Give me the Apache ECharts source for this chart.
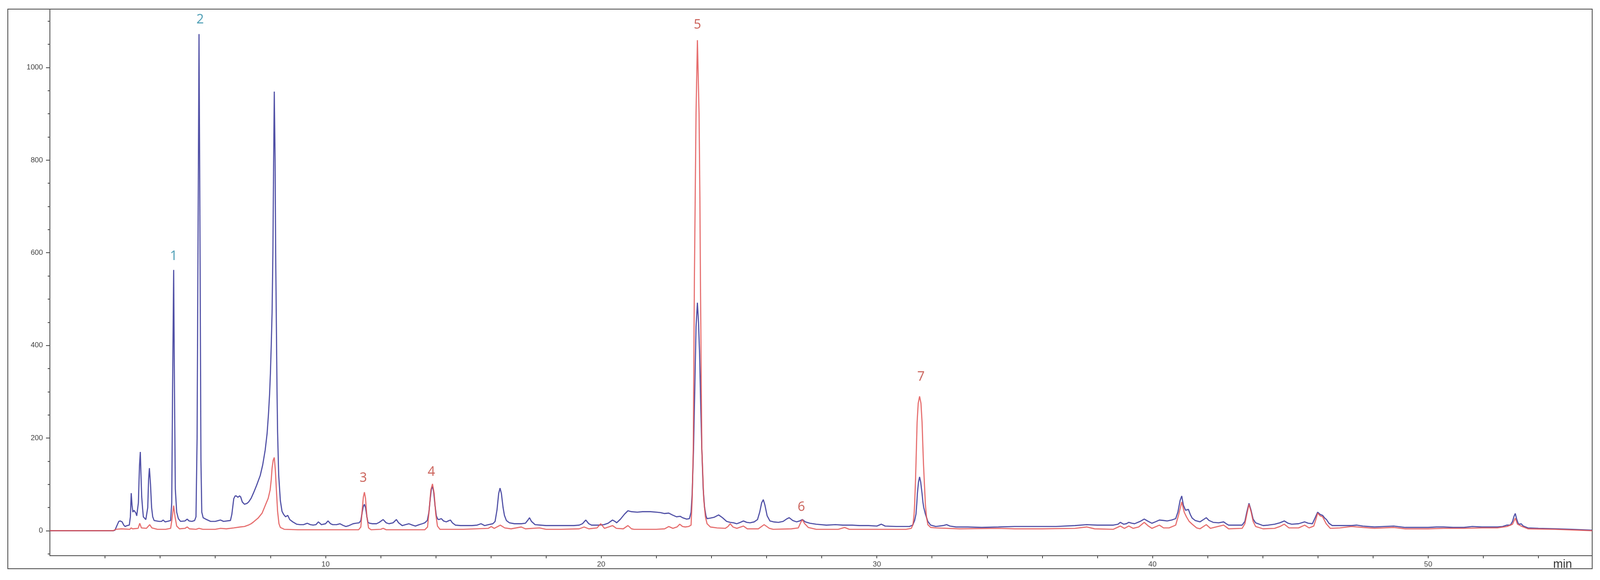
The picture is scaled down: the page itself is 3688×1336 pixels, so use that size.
<!DOCTYPE html>
<html>
<head>
<meta charset="utf-8">
<script src="https://cdn.jsdelivr.net/npm/echarts@6/dist/echarts.min.js"></script>
<style>
html,body{margin:0;padding:0;background:#ffffff;}
#chart{width:3688px;height:1336px;}
</style>
</head>
<body>
<div id="chart"></div>
<script>
// ---- Data (time in min, signal) ----
const blueTrace = [
[0,0],[2.30,0],[2.36,1],[2.44,12],[2.50,20],[2.55,21],[2.62,19],[2.68,12],[2.73,9],[2.80,11],[2.88,12],
[2.92,30],[2.95,81],[2.98,55],[3.01,40],[3.05,44],[3.08,45],[3.12,38],[3.15,32],[3.21,60],[3.25,140],
[3.28,170],[3.31,110],[3.33,74],[3.36,50],[3.39,30],[3.48,24],[3.55,50],[3.58,110],[3.61,135],[3.65,100],
[3.69,50],[3.73,30],[3.78,22],[3.96,20],[4.05,20],[4.11,23],[4.18,19],[4.26,20],[4.38,22],[4.42,60],
[4.45,300],[4.49,563],[4.52,300],[4.55,90],[4.60,40],[4.66,26],[4.74,20],[4.90,21],[4.98,25],[5.05,21],
[5.15,20],[5.25,22],[5.30,30],[5.34,200],[5.38,700],[5.41,1072],[5.44,700],[5.48,150],[5.51,40],[5.56,28],
[5.65,25],[5.83,20],[6.00,20],[6.19,23],[6.30,20],[6.55,22],[6.60,35],[6.67,69],[6.72,75],[6.76,75],
[6.82,72],[6.88,75],[6.92,73],[6.98,62],[7.06,57],[7.15,59],[7.21,62],[7.30,70],[7.39,82],[7.50,98],
[7.63,119],[7.72,142],[7.81,174],[7.88,210],[7.93,252],[7.97,295],[8.00,340],[8.03,400],[8.06,470],[8.09,600],
[8.11,750],[8.14,948],[8.17,800],[8.19,600],[8.22,420],[8.24,300],[8.26,213],[8.30,120],[8.36,65],[8.42,42],
[8.48,35],[8.55,30],[8.63,33],[8.70,24],[8.81,19],[8.95,14],[9.08,13],[9.20,13],[9.34,16],[9.45,13],
[9.55,12],[9.65,13],[9.74,19],[9.85,13],[10.0,15],[10.09,21],[10.18,15],[10.26,13],[10.40,13],[10.52,15],
[10.65,11],[10.74,9],[10.85,11],[11.0,15],[11.1,16],[11.22,17],[11.28,22],[11.33,40],[11.37,52],[11.41,57],
[11.45,50],[11.50,30],[11.54,18],[11.60,16],[11.70,15],[11.85,15],[11.95,18],[12.09,24],[12.20,17],[12.30,15],
[12.45,17],[12.57,24],[12.65,17],[12.78,11],[12.90,13],[13.02,15],[13.15,12],[13.26,10],[13.40,13],[13.51,15],
[13.60,17],[13.69,22],[13.75,40],[13.80,70],[13.84,90],[13.88,95],[13.92,85],[13.97,55],[14.02,32],[14.07,25],
[14.11,24],[14.20,26],[14.28,21],[14.38,19],[14.45,21],[14.53,23],[14.60,17],[14.71,12],[14.9,11],[15.1,11],
[15.31,11],[15.5,12],[15.64,15],[15.77,11],[15.91,13],[16.07,15],[16.15,20],[16.22,45],[16.28,80],[16.33,92],
[16.38,80],[16.44,50],[16.49,33],[16.56,22],[16.67,17],[16.85,15],[17.1,15],[17.25,16],[17.33,22],[17.40,28],
[17.47,20],[17.60,13],[17.8,12],[18.0,11],[18.54,11],[19.0,11],[19.2,12],[19.32,15],[19.44,23],[19.55,15],
[19.65,12],[19.9,12],[20.1,13],[20.25,16],[20.41,23],[20.50,20],[20.56,17],[20.70,25],[20.85,36],[20.97,43],
[21.10,41],[21.31,40],[21.5,41],[21.79,41],[22.0,40],[22.15,39],[22.30,37],[22.45,38],[22.58,34],[22.73,30],
[22.87,31],[22.95,28],[23.10,25],[23.20,26],[23.26,40],[23.30,80],[23.35,177],[23.40,320],[23.44,440],[23.49,492],
[23.53,450],[23.57,380],[23.61,270],[23.65,177],[23.70,90],[23.75,50],[23.80,32],[23.84,26],[23.95,27],[24.10,29],
[24.26,34],[24.40,28],[24.55,20],[24.68,18],[24.80,17],[24.92,15],[25.05,18],[25.16,21],[25.28,18],[25.40,17],
[25.55,19],[25.67,24],[25.75,40],[25.82,60],[25.88,67],[25.94,55],[26.02,32],[26.12,21],[26.25,19],[26.43,18],
[26.60,20],[26.72,25],[26.82,28],[26.95,22],[27.09,19],[27.20,21],[27.30,24],[27.40,19],[27.57,16],[27.8,14],
[28.17,12],[28.5,13],[28.77,12],[29.1,12],[29.37,11],[29.7,11],[30.0,10],[30.16,14],[30.30,10],[30.7,9],
[31.18,9],[31.30,12],[31.37,22],[31.42,36],[31.45,60],[31.47,80],[31.51,105],[31.55,116],[31.59,105],[31.62,90],
[31.64,80],[31.67,62],[31.70,50],[31.76,36],[31.85,20],[31.95,12],[32.14,9],[32.40,11],[32.53,13],[32.65,10],
[32.87,8],[33.3,8],[33.8,7],
[34.41,8],[35.0,9],[35.5,9],[36.0,9],[36.5,9],[37.19,11],[37.61,13],[38.0,12],[38.58,12],[38.75,14],
[38.83,18],[38.95,14],[39.05,15],[39.14,18],[39.25,16],[39.35,15],[39.55,20],[39.70,25],[39.85,20],[39.98,16],
[40.10,19],[40.25,23],[40.40,22],[40.53,21],[40.70,23],[40.84,26],[40.92,40],[41.00,65],[41.06,75],[41.12,55],
[41.20,44],[41.30,46],[41.37,35],[41.44,27],[41.55,22],[41.72,19],[41.85,24],[41.95,28],[42.05,22],[42.20,18],
[42.40,17],[42.58,19],[42.70,14],[42.76,12],[43.25,12],[43.35,20],[43.42,40],[43.50,59],[43.57,45],[43.65,25],
[43.74,17],[44.01,11],[44.20,12],[44.43,14],[44.62,17],[44.78,21],[44.92,16],[45.05,14],[45.30,15],[45.52,19],
[45.65,16],[45.80,15],[45.90,28],[45.99,40],[46.08,35],[46.17,33],[46.25,27],[46.31,24],[46.40,16],[46.52,11],
[46.8,11],[47.22,11],[47.4,12],[47.63,10],[48.05,8],[48.4,9],[48.75,10],[49.17,7],[49.6,7],[50.0,7],
[50.3,8],[50.56,8],[50.9,7],[51.3,7],[51.6,9],[51.95,8],[52.3,8],[52.51,8],[52.70,9],[52.86,12],
[52.98,12],[53.06,20],[53.12,32],[53.16,37],[53.21,25],[53.27,15],[53.33,14],[53.37,15],[53.45,10],[53.62,6],
[54.0,5],[54.6,4],[55.2,3],[55.95,1]
];

const redTrace = [
[0,0],[2.30,0],[2.40,3],[2.60,4],[2.90,3],[2.95,6],[3.00,4],[3.20,5],[3.26,16],[3.32,6],[3.50,5],[3.62,13],
[3.70,6],[3.90,3],[4.20,3],[4.38,5],[4.43,25],[4.49,54],[4.54,30],[4.60,10],[4.70,4],[4.90,5],[4.98,8],
[5.06,4],[5.30,3],[5.41,5],[5.55,3],[6.00,3],[6.19,5],[6.40,4],[6.67,6],[6.90,8],[7.06,9],[7.20,12],
[7.30,15],[7.39,19],[7.55,27],[7.70,38],[7.83,57],[7.92,70],[7.99,88],[8.03,110],[8.06,135],[8.10,152],
[8.14,158],[8.18,130],[8.21,95],[8.26,42],[8.31,15],[8.36,7],[8.50,3],[9.0,2],[10.0,2],[11.2,2],[11.28,8],
[11.33,45],[11.37,72],[11.41,83],[11.45,70],[11.50,30],[11.56,6],[11.65,2],[12.0,3],[12.09,5],[12.2,2],
[13.6,2],[13.70,8],[13.76,45],[13.82,88],[13.88,101],[13.94,80],[14.00,35],[14.06,10],[14.15,3],[15.0,3],
[15.9,5],[16.01,9],[16.12,5],[16.34,12],[16.50,6],[16.73,4],[17.10,8],[17.25,4],[17.76,6],[18.0,3],
[18.54,3],[19.20,4],[19.38,8],[19.55,4],[19.85,6],[19.98,15],[20.12,5],[20.41,11],[20.55,5],[20.80,4],
[20.97,11],[21.10,4],[21.19,3],[22.0,3],[22.30,4],[22.45,9],[22.60,5],[22.75,8],[22.85,14],[22.95,9],
[23.05,8],[23.17,9],[23.26,12],[23.30,68],[23.34,177],[23.38,539],[23.41,720],[23.44,900],[23.49,1059],[23.55,900],
[23.58,720],[23.60,539],[23.65,177],[23.72,68],[23.78,30],[23.84,15],[23.96,8],[24.20,6],[24.50,5],[24.60,9],
[24.68,15],[24.78,8],[24.92,5],[25.16,10],[25.30,4],[25.70,4],[25.91,13],[26.10,5],[26.24,3],[26.90,4],
[27.15,6],[27.24,18],[27.30,24],[27.37,16],[27.51,7],[27.8,3],[28.60,3],[28.83,7],[29.0,3],[30.0,3],
[31.06,3],[31.25,5],[31.31,13],[31.35,35],[31.37,57],[31.40,105],[31.42,146],[31.46,234],[31.50,275],[31.55,290],
[31.60,275],[31.64,234],[31.67,180],[31.69,146],[31.73,95],[31.76,57],[31.80,30],[31.85,13],[31.95,7],
[32.14,6],[33.0,4],[34.41,5],[35.0,4],[36.0,4],[37.19,5],[37.61,8],[37.90,4],[38.58,3],[38.83,10],
[38.98,5],[39.14,10],[39.30,5],[39.50,8],[39.70,18],[39.85,10],[39.98,5],[40.25,12],[40.40,6],[40.60,6],
[40.84,12],[40.95,35],[41.06,62],[41.15,40],[41.23,30],[41.33,20],[41.44,14],[41.60,6],[41.72,4],[41.95,13],
[42.10,5],[42.58,12],[42.76,4],[43.25,5],[43.35,15],[43.42,35],[43.50,57],[43.58,40],[43.65,20],[43.74,9],
[44.01,4],[44.43,5],[44.62,9],[44.78,14],[44.95,6],[45.30,6],[45.52,12],[45.68,6],[45.85,10],[45.93,25],
[45.99,38],[46.08,32],[46.17,30],[46.30,15],[46.45,5],[46.80,6],[47.22,9],[47.63,7],[48.05,5],[48.75,7],
[49.17,4],[50.0,4],[50.56,5],[51.3,5],[51.95,6],[52.51,6],[52.86,9],[53.06,14],[53.16,27],[53.24,14],
[53.37,10],[53.62,4],[54.6,3],[55.95,0]
];

// Peak annotations: name, label anchor time, label anchor signal
const peakNames  = ['1', '2', '3', '4', '5', '6', '7'];
const peakLabelT = [4.49, 5.45, 11.37, 13.84, 23.49, 27.26, 31.60];
const peakLabelV = [592, 1103, 113, 126, 1092, 51, 332];
const peakGroup  = ['blue', 'blue', 'red', 'red', 'red', 'red', 'red'];

const yLabelValues = [0, 200, 400, 600, 800, 1000];
const yMinorTicks  = [-50, 50, 100, 150, 250, 300, 350, 450, 500, 550, 650, 700, 750, 850, 900, 950, 1050, 1100];
const xLabelValues = [10, 20, 30, 40, 50];
const xTickValues  = [2,4,6,8,10,12,14,16,18,20,22,24,26,28,30,32,34,36,38,40,42,44,46,48,50,52,54];

// ---- Chart ----
const chart = echarts.init(document.getElementById('chart'), null, {renderer: 'canvas'});
const axisColor = '#555555';
const labelColors = {blue: '#2a8ba6', red: '#c0433a'};

const option = {
  animation: false,
  backgroundColor: '#ffffff',
  grid: {left: 115, right: 18, top: 21, bottom: 56, containLabel: false},
  xAxis: {
    type: 'value', min: 0, max: 55.95,
    axisLine: {show: true, onZero: false, lineStyle: {color: axisColor, width: 2}},
    axisTick: {show: true, customValues: xTickValues, length: 6, lineStyle: {color: axisColor, width: 2}},
    axisLabel: {customValues: xLabelValues, fontSize: 17, color: '#444', margin: 12, fontFamily: 'Liberation Sans',
                formatter: v => String(v)},
    splitLine: {show: false}
  },
  yAxis: [
    {
      type: 'value', min: -54, max: 1126, position: 'left',
      axisLine: {show: true, onZero: false, lineStyle: {color: axisColor, width: 2}},
      axisTick: {show: true, customValues: yLabelValues, length: 9, lineStyle: {color: axisColor, width: 2}},
      axisLabel: {customValues: yLabelValues, fontSize: 17, color: '#444', margin: 16, fontFamily: 'Liberation Sans',
                  formatter: v => String(v)},
      splitLine: {show: false}
    },
    {
      type: 'value', min: -54, max: 1126, position: 'left',
      axisLine: {show: false},
      axisTick: {show: true, customValues: yMinorTicks, length: 5, lineStyle: {color: axisColor, width: 2}},
      axisLabel: {show: false},
      splitLine: {show: false}
    }
  ],
  graphic: [
    {type: 'rect', shape: {x: 18, y: 21, width: 3652, height: 1289}, style: {fill: 'none', stroke: '#555', lineWidth: 2}, z: -1, silent: true},
    {type: 'text', x: 3580, y: 1287, style: {text: 'min', fontSize: 27, fill: '#333', fontFamily: 'Liberation Sans Narrow, Liberation Sans'}, silent: true}
  ],
  series: [
    {
      name: 'blue', type: 'line', data: blueTrace, showSymbol: false, symbol: 'none',
      lineStyle: {color: '#5050a6', width: 2.6}, itemStyle: {color: '#5050a6'}, z: 2, smooth: false
    },
    {
      name: 'red', type: 'line', data: redTrace, showSymbol: false, symbol: 'none',
      lineStyle: {color: '#e25555', width: 2.6, opacity: 0.85}, itemStyle: {color: '#e25555'}, z: 3, smooth: false
    },
    {
      name: 'labels', type: 'scatter', symbolSize: 0, z: 5,
      data: peakNames.map((n, i) => ({
        name: n, value: [peakLabelT[i], peakLabelV[i]],
        label: {color: labelColors[peakGroup[i]]}
      })),
      label: {show: true, position: 'inside', formatter: '{b}', fontSize: 30, fontFamily: 'Noto Sans'}
    }
  ]
};
chart.setOption(option);
</script>
</body>
</html>
